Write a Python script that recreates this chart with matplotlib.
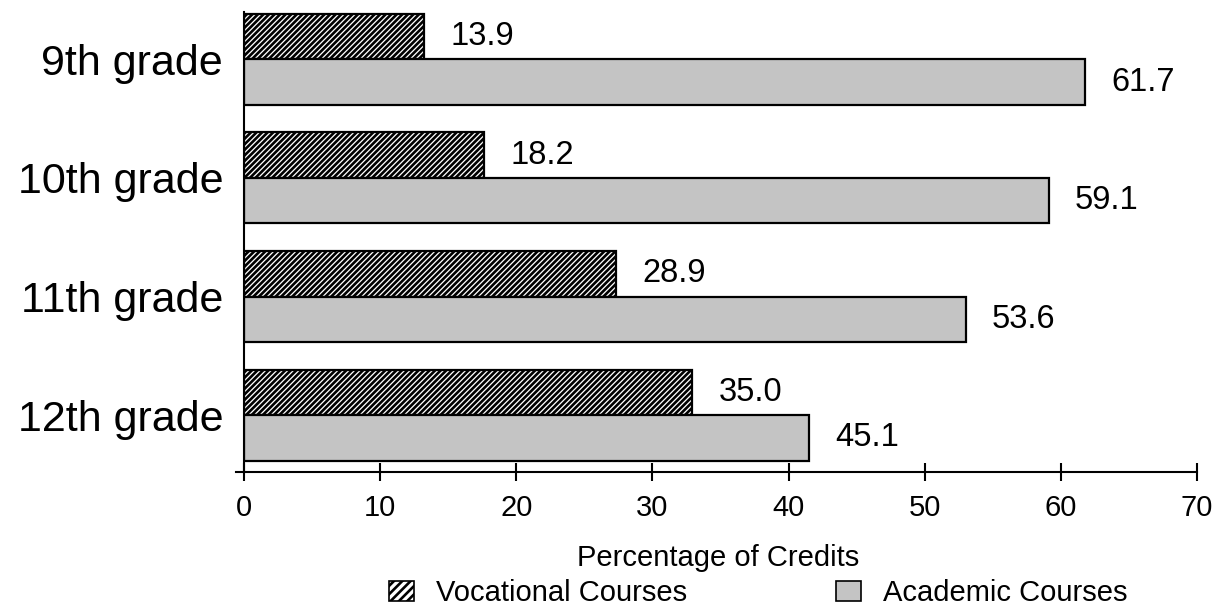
import numpy as np
import matplotlib
matplotlib.use("Agg")
import matplotlib.pyplot as plt
from matplotlib.patches import Patch

plt.rcParams['font.family'] = ['Liberation Sans', 'DejaVu Sans']
plt.rcParams['hatch.linewidth'] = 1.9

# data
grades = ["9th grade", "10th grade", "11th grade", "12th grade"]
voc_len = [13.2, 17.6, 27.3, 32.9]      # drawn bar lengths
acad_len = [61.8, 59.1, 53.0, 41.5]
voc_labels = ["13.9", "18.2", "28.9", "35.0"]   # printed values
acad_labels = ["61.7", "59.1", "53.6", "45.1"]
xticks = [0, 10, 20, 30, 40, 50, 60, 70]

ACAD_GREY = '#c4c4c4'

fig = plt.figure(figsize=(12.22, 6.16), dpi=100)
ax = fig.add_axes([0.1997, 0.2338, 0.7799, 0.7468])

y = np.arange(len(grades))
h = 0.384

# vocational: black diagonal stripes
ax.barh(y - h/2, voc_len, height=h, color='white', edgecolor='black',
        hatch='//////', linewidth=1.6)
# academic: stippled grey, shown as flat grey
ax.barh(y + h/2, acad_len, height=h, color=ACAD_GREY, edgecolor='black',
        linewidth=1.6)

for yy, v, lab in zip(y - h/2, voc_len, voc_labels):
    ax.annotate(lab, (v, yy), xytext=(19, 0), textcoords='offset points',
                va='center', ha='left', fontsize=23.5)
for yy, v, lab in zip(y + h/2, acad_len, acad_labels):
    ax.annotate(lab, (v, yy), xytext=(19, 0), textcoords='offset points',
                va='center', ha='left', fontsize=23.5)

ax.set_xlim(0, 70)
ax.set_ylim(3.48, -0.40)
ax.set_xticks(xticks)
ax.set_yticks(y)
ax.set_yticklabels(grades, fontsize=31)
ax.tick_params(axis='y', length=0, pad=15)
ax.tick_params(axis='x', direction='inout', length=13, width=1.5, pad=9, labelsize=21)

for s in ['top', 'right']:
    ax.spines[s].set_visible(False)
for s in ['left', 'bottom']:
    ax.spines[s].set_linewidth(1.5)
ax.spines['bottom'].set_bounds(-0.6, 70)

fig.text(718/1222, 1 - 558/616, "Percentage of Credits", ha='center', va='center', fontsize=21)

h_voc = Patch(facecolor='white', edgecolor='black', hatch='////', linewidth=1.2)
h_acad = Patch(facecolor=ACAD_GREY, edgecolor='black', linewidth=1.2)
fig.legend([h_voc, h_acad], ["Vocational Courses", "Academic Courses"],
           loc='center', bbox_to_anchor=(758/1222, 1 - 593/616), ncol=2,
           frameon=False, fontsize=21, handlelength=0.86, handleheight=0.67,
           handletextpad=0.75, columnspacing=5.1, borderpad=0, borderaxespad=0)

fig.savefig("out.png", dpi=100)
